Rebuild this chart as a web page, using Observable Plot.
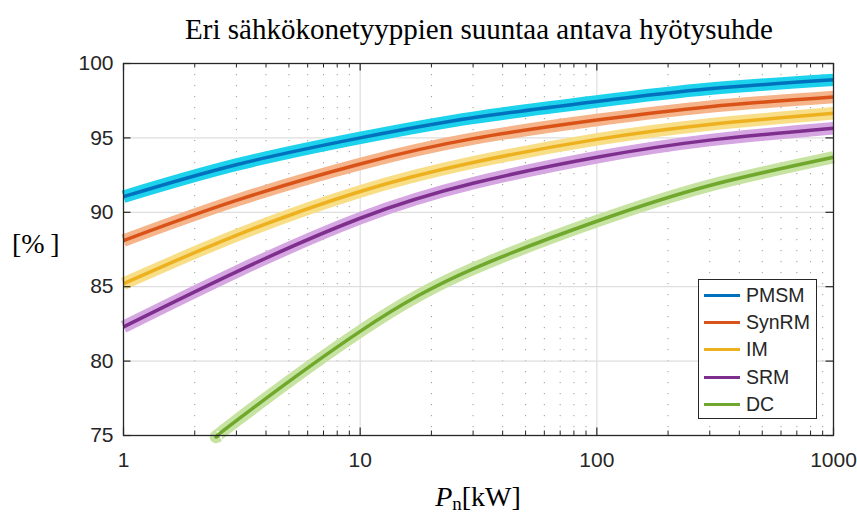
<!DOCTYPE html>
<html>
<head>
<meta charset="utf-8">
<script src="https://cdn.jsdelivr.net/npm/d3@7"></script>
<script src="https://cdn.jsdelivr.net/npm/@observablehq/plot@0.6"></script>
<style>
  body { margin: 0; background: #fff; }
  #wrap { position: relative; width: 857px; height: 514px; overflow: hidden; }
  .serif { position: absolute; font-family: "Liberation Serif", "Times New Roman", serif; color: #000; line-height: 1; white-space: nowrap; }
  #title { font-size: 29px; top: 15px; left: 479px; transform: translateX(-50%); }
  #ylab { font-size: 28px; top: 230px; left: 12px; }
  #xlab { font-size: 28px; top: 483px; left: 478px; transform: translateX(-50%); }
  #xlab i { font-style: italic; }
  #xlab sub { font-size: 19px; vertical-align: -4px; line-height: 0; }
  #legend { position: absolute; left: 698px; top: 279px; width: 117px; height: 138px; border: 1.3px solid #262626; background: #fff;
            font-family: "Liberation Sans", Arial, sans-serif; font-size: 19.5px; color: #262626; }
  .row { position: absolute; left: 5px; height: 20px; display: flex; align-items: center; }
  .sw { width: 36px; height: 3px; margin-right: 6px; }
</style>
</head>
<body>
<div id="wrap">
  <div id="title" class="serif">Eri sähkökonetyyppien suuntaa antava hyötysuhde</div>
  <div id="ylab" class="serif">[%&thinsp;]</div>
  <div id="xlab" class="serif"><i>P</i><sub>n</sub>[kW]</div>
  <div id="legend"></div>
</div>
<script>
// Rated power (kW) sampled along the curves
const powerKW = [1, 3, 10, 30, 100, 300, 1000];
// Indicative efficiency (%) per machine type
const pmsm  = [91.05, 93.2, 95.0, 96.35, 97.45, 98.3, 98.9];
const synrm = [88.1, 90.8, 93.25, 94.95, 96.2, 97.1, 97.75];
const im    = [85.2, 88.45, 91.4, 93.35, 94.9, 95.9, 96.65];
const srm   = [82.3, 86.0, 89.6, 91.95, 93.7, 94.85, 95.65];
// DC machine curve enters the plotted range at about 2.5 kW
const dcPowerKW = [2.53, 3, 10, 30, 100, 300, 1000];
const dc        = [75.0, 76.0, 82.0, 86.2, 89.4, 91.8, 93.7];

const seriesNames = ["PMSM", "SynRM", "IM", "SRM", "DC"];
const lineColors  = ["#0072BD", "#D95319", "#EDB120", "#7E2F8E", "#6FA82C"];
const bandColors  = ["#1CD2EC", "#F5B48A", "#F8DE86", "#D6A6E2", "#C7E3A2"];

const xTicks = [1, 10, 100, 1000];
const yTicks = [75, 80, 85, 90, 95, 100];
const minorX = [2,3,4,5,6,7,8,9,20,30,40,50,60,70,80,90,200,300,400,500,600,700,800,900];

const rows = [];
const add = (name, xs, ys) => xs.forEach((p, i) => rows.push({name, p, eff: ys[i]}));
add("PMSM", powerKW, pmsm);
add("SynRM", powerKW, synrm);
add("IM", powerKW, im);
add("SRM", powerKW, srm);
add("DC", dcPowerKW, dc);

const W = 857, H = 514, mL = 123, mR = 24, mT = 63, mB = 79;
const innerW = W - mL - mR, innerH = H - mT - mB;
const major = 7.5, minor = 4.5, ink = "#262626";

const curveMarks = [];
seriesNames.forEach((name, i) => {
  const d = rows.filter(r => r.name === name);
  curveMarks.push(Plot.line(d, {x: "p", y: "eff", stroke: bandColors[i], strokeWidth: 12.5, curve: "natural", strokeLinecap: "butt"}));
  curveMarks.push(Plot.line(d, {x: "p", y: "eff", stroke: lineColors[i], strokeWidth: 3.5, curve: "natural", strokeLinecap: "butt"}));
});

const chart = Plot.plot({
  width: W, height: H,
  marginLeft: mL, marginRight: mR, marginTop: mT, marginBottom: mB,
  style: {fontFamily: "'Liberation Sans', Arial, sans-serif", fontSize: "21px", background: "transparent", overflow: "visible"},
  x: {type: "log", domain: [1, 1000]},
  y: {domain: [75, 100]},
  marks: [
    Plot.ruleX(minorX, {stroke: "#9c9c9c", strokeWidth: 1, strokeDasharray: "1.2,9.8"}),
    Plot.ruleX([10, 100], {stroke: "#dedede", strokeWidth: 1.2}),
    Plot.ruleY([80, 85, 90, 95], {stroke: "#dedede", strokeWidth: 1.2}),
    ...curveMarks,
    // inward tick marks on all four sides
    Plot.ruleX(xTicks, {stroke: ink, strokeWidth: 1.2, insetTop: innerH - major}),
    Plot.ruleX(xTicks, {stroke: ink, strokeWidth: 1.2, insetBottom: innerH - major}),
    Plot.ruleX(minorX, {stroke: ink, strokeWidth: 1, insetTop: innerH - minor}),
    Plot.ruleX(minorX, {stroke: ink, strokeWidth: 1, insetBottom: innerH - minor}),
    Plot.ruleY(yTicks, {stroke: ink, strokeWidth: 1.2, insetRight: innerW - major}),
    Plot.ruleY(yTicks, {stroke: ink, strokeWidth: 1.2, insetLeft: innerW - major}),
    Plot.frame({stroke: ink, strokeWidth: 1.3}),
    Plot.axisX(xTicks, {tickSize: 0, tickPadding: 17, tickFormat: d => String(d), label: null, fill: ink}),
    Plot.axisY(yTicks, {tickSize: 0, tickPadding: 10, tickFormat: d => String(d), label: null, fill: ink})
  ]
});
document.getElementById("wrap").prepend(chart);
chart.style.position = "absolute";
chart.style.left = "0px";
chart.style.top = "0px";

const legend = document.getElementById("legend");
seriesNames.forEach((name, i) => {
  const row = document.createElement("div");
  row.className = "row";
  row.style.top = (5 + i * 27.4) + "px";
  const sw = document.createElement("div");
  sw.className = "sw";
  sw.style.background = lineColors[i];
  const label = document.createElement("span");
  label.textContent = name;
  row.append(sw, label);
  legend.append(row);
});
</script>
</body>
</html>
